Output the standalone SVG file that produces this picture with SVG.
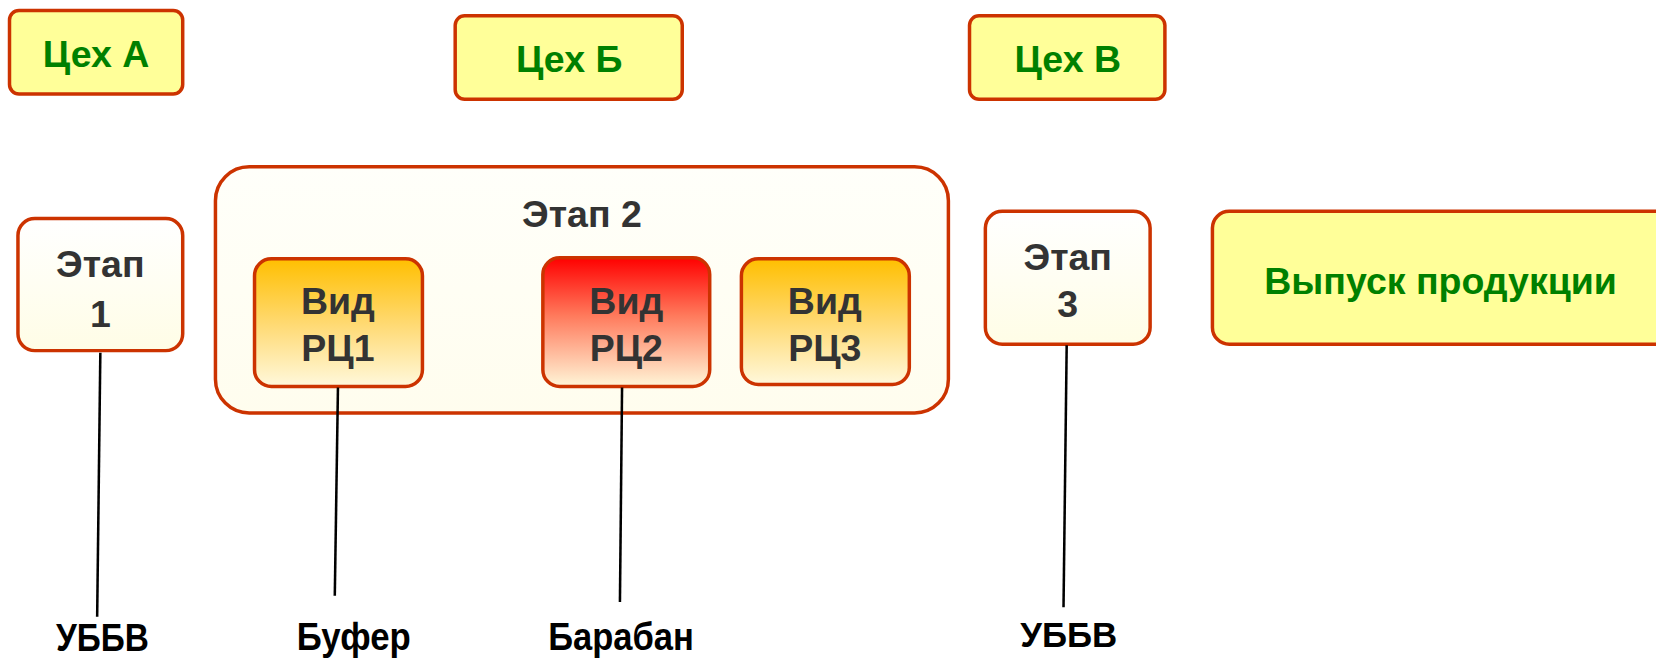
<svg xmlns="http://www.w3.org/2000/svg" width="1656" height="659" viewBox="0 0 1656 659">
<defs>
<linearGradient id="gStage" x1="0" y1="0" x2="0" y2="1"><stop offset="0" stop-color="#ffffff"/><stop offset="1" stop-color="#fffde6"/></linearGradient>
<linearGradient id="gBig" x1="0" y1="0" x2="0" y2="1"><stop offset="0" stop-color="#fffffa"/><stop offset="1" stop-color="#fffdee"/></linearGradient>
<linearGradient id="gOrange" x1="0" y1="0" x2="0" y2="1"><stop offset="0" stop-color="#ffbf00"/><stop offset="0.5" stop-color="#ffd970"/><stop offset="1" stop-color="#fff8dc"/></linearGradient>
<linearGradient id="gRed" x1="0" y1="0" x2="0" y2="1"><stop offset="0" stop-color="#ff0000"/><stop offset="0.45" stop-color="#ff7a5c"/><stop offset="1" stop-color="#fff6d8"/></linearGradient>
</defs>
<style>
.box{stroke:#cc3300;stroke-width:3.3}
.shop{fill:#ffff99}
.gt{font-family:"Liberation Sans",Arial,sans-serif;font-weight:bold;font-size:35.5px;fill:#008000;text-anchor:middle}
.dt{font-family:"Liberation Sans",Arial,sans-serif;font-weight:bold;font-size:35.5px;fill:#333333;text-anchor:middle}
.bt{font-family:"Liberation Sans",Arial,sans-serif;font-weight:bold;font-size:36px;fill:#000000;text-anchor:middle}
.ln{stroke:#000000;stroke-width:2.4;fill:none}
</style>
<rect width="1656" height="659" fill="#ffffff"/>
<g transform="scale(1.05612)">
<g id="shopA"><rect class="box shop" x="9" y="10" width="164" height="79" rx="9"/><text class="gt" x="91" y="63">Цех А</text></g>
<g id="shopB"><rect class="box shop" x="431" y="15" width="215" height="79" rx="9"/><text class="gt" x="539" y="68">Цех Б</text></g>
<g id="shopV"><rect class="box shop" x="918" y="15" width="185" height="79" rx="9"/><text class="gt" x="1011" y="68">Цех В</text></g>
<g id="stage1"><rect class="box" fill="url(#gStage)" x="17" y="207" width="156" height="125" rx="16"/><text class="dt" x="95" y="262">Этап</text><text class="dt" x="95" y="310">1</text></g>
<g id="stage2"><rect class="box" fill="url(#gBig)" x="204" y="158" width="694" height="233" rx="32"/><text class="dt" x="551" y="215">Этап 2</text></g>
<g id="rc1"><rect class="box" fill="url(#gOrange)" x="241" y="245" width="159" height="121" rx="16"/><text class="dt" x="320" y="297">Вид</text><text class="dt" x="320" y="342">РЦ1</text></g>
<g id="rc2"><rect class="box" fill="url(#gRed)" x="514" y="244" width="158" height="122" rx="16"/><text class="dt" x="593" y="297">Вид</text><text class="dt" x="593" y="342">РЦ2</text></g>
<g id="rc3"><rect class="box" fill="url(#gOrange)" x="702" y="245" width="159" height="119" rx="16"/><text class="dt" x="781" y="297">Вид</text><text class="dt" x="781" y="342">РЦ3</text></g>
<g id="stage3"><rect class="box" fill="url(#gStage)" x="933" y="200" width="156" height="126" rx="16"/><text class="dt" x="1011" y="256">Этап</text><text class="dt" x="1011" y="300">3</text></g>
<g id="output"><rect class="box shop" x="1148" y="200" width="530" height="126" rx="16"/><text class="gt" x="1364" y="278">Выпуск продукции</text></g>
<g id="connectors">
<line class="ln" x1="95" y1="334" x2="92" y2="584"/>
<line class="ln" x1="320" y1="367" x2="317" y2="564"/>
<line class="ln" x1="589" y1="367" x2="587" y2="570"/>
<line class="ln" x1="1010" y1="327" x2="1007" y2="575"/>
</g>
<g id="labels">
<text class="bt" x="97" y="616" textLength="88" lengthAdjust="spacingAndGlyphs">УББВ</text>
<text class="bt" x="335" y="615" textLength="108" lengthAdjust="spacingAndGlyphs">Буфер</text>
<text class="bt" x="588" y="615" textLength="138" lengthAdjust="spacingAndGlyphs">Барабан</text>
<text class="bt" x="1012" y="613" style="font-size:33px">УББВ</text>
</g>
</g>
</svg>
